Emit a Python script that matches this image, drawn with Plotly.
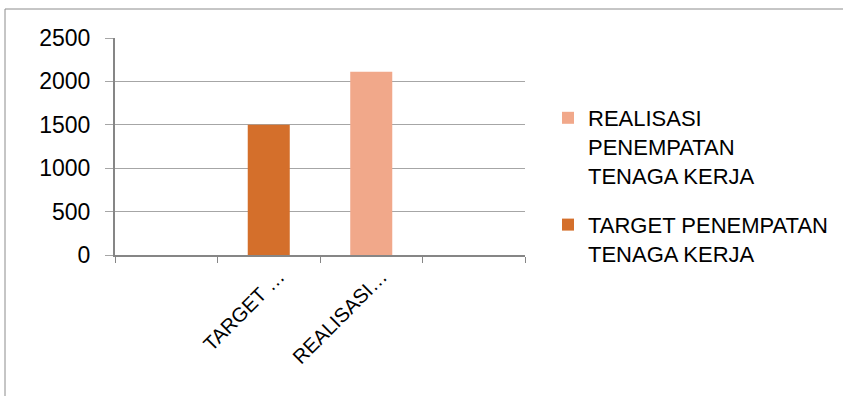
import plotly.graph_objects as go

categories = [" ", "TARGET …", "REALISASI…", "  "]
series_names = ["REALISASI<br>PENEMPATAN<br>TENAGA KERJA", "TARGET PENEMPATAN<br>TENAGA KERJA"]
series_cats = ["REALISASI…", "TARGET …"]
series_values = [2110, 1500]
series_colors = ["#F1A88A", "#D46F2B"]
y_ticks = [0, 500, 1000, 1500, 2000, 2500]

FONT = "Liberation Sans, Arial, sans-serif"

fig = go.Figure()
for i, (name, cat, val, col) in enumerate(zip(series_names, series_cats, series_values, series_colors)):
    fig.add_trace(go.Bar(name=name, x=[cat], y=[val], marker_color=col,
                         marker_line_width=0, width=0.41, legendgroup=f"g{i}"))

L, R, T, B = 115, 525, 38, 255
W, H = 843, 396
pw, ph = R - L, B - T

fig.update_layout(
    width=W, height=H,
    margin=dict(l=L, r=W - R, t=T, b=H - B, pad=0, autoexpand=False),
    paper_bgcolor="white", plot_bgcolor="white",
    barmode="overlay",
    font=dict(family=FONT, size=22, color="#000000"),
    showlegend=True,
    legend=dict(x=(548 - L) / pw, y=(B - 97) / ph, xanchor="left", yanchor="top",
                font=dict(family=FONT, size=22, color="#000000"),
                traceorder="grouped", itemsizing="constant", tracegroupgap=18,
                valign="top", bgcolor="rgba(0,0,0,0)"),
    xaxis=dict(type="category", categoryorder="array", categoryarray=categories,
               tickmode="array", tickvals=categories, ticktext=categories,
               range=[-0.5, 3.5], tickson="boundaries", ticks="outside", ticklen=6,
               tickcolor="#868686", tickwidth=1,
               showline=True, linecolor="#868686", linewidth=2,
               showgrid=False, tickangle=-45, ticklabelshift=10,
               tickfont=dict(family=FONT, size=20, color="#000000")),
    yaxis=dict(range=[0, 2500], tickvals=y_ticks, showgrid=True, gridcolor="#A6A6A6",
               gridwidth=1, ticks="outside", ticklen=8, tickcolor="#A6A6A6",
               showline=True, linecolor="#868686", linewidth=2, zeroline=False,
               ticklabelstandoff=10,
               tickfont=dict(family=FONT, size=23, color="#000000")),
)

fig.add_shape(type="rect", xref="paper", yref="paper",
              x0=(5 - L) / pw, x1=(W + 20 - L) / pw,
              y0=(B - (H + 20)) / ph, y1=(B - 9) / ph,
              line=dict(color="#8C8C8C", width=1), fillcolor="rgba(0,0,0,0)", layer="below")

fig.write_html("out.html")
